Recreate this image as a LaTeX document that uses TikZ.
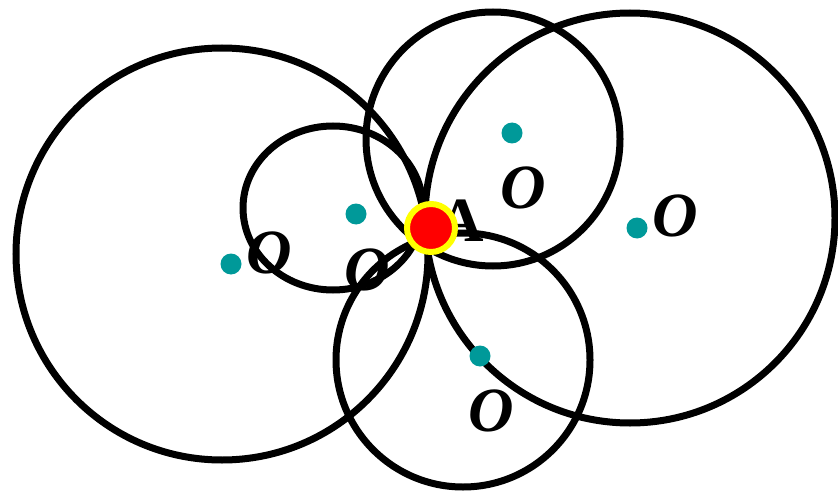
\documentclass[tikz,border=0pt]{standalone}
\usepackage{fontspec}
\setmainfont{Liberation Serif}
\usepackage{tikz}
\definecolor{dotteal}{RGB}{0,153,153}
\definecolor{ptred}{RGB}{255,0,0}
\definecolor{ptring}{RGB}{255,255,0}

\begin{document}
\begin{tikzpicture}[
  x=1pt, y=-1pt,
  ring/.style={draw=black, line width=7pt},
  centre/.style={circle, fill=dotteal, inner sep=0pt, minimum size=21pt},
  olabel/.style={inner sep=0pt, font=\fontsize{63}{63}\selectfont\bfseries\itshape},
  alabel/.style={inner sep=0pt, font=\fontsize{63}{63}\selectfont\bfseries},
  point/.style={circle, fill=ptred, draw=ptring, line width=6pt, inner sep=0pt, minimum size=48pt},
]
\useasboundingbox (0,0) rectangle (838,492);

% labels (under the circles)
\node[olabel] (lbla) at (269,253) {O};
\node[olabel] (lblb) at (367,270) {O};
\node[olabel] (lblc) at (523,188) {O};
\node[olabel] (lbld) at (675,216) {O};
\node[olabel] (lble) at (491,411) {O};
\node[alabel] (lblp) at (461,221) {A};

% circles
\draw[ring] (222,254) circle[radius=206pt];
\draw[ring] (333,208) ellipse[x radius=90pt, y radius=82pt];
\draw[ring] (493,139) circle[radius=127pt];
\draw[ring] (630,218) circle[radius=205pt];
\draw[ring] (463,360) circle[radius=127pt];

% centres
\node[centre] (ca) at (231,264) {};
\node[centre] (cb) at (356,214) {};
\node[centre] (cc) at (512,133) {};
\node[centre] (cd) at (637,228) {};
\node[centre] (ce) at (480,356) {};

% common point
\node[point] (pa) at (431,228) {};

\end{tikzpicture}
\end{document}
